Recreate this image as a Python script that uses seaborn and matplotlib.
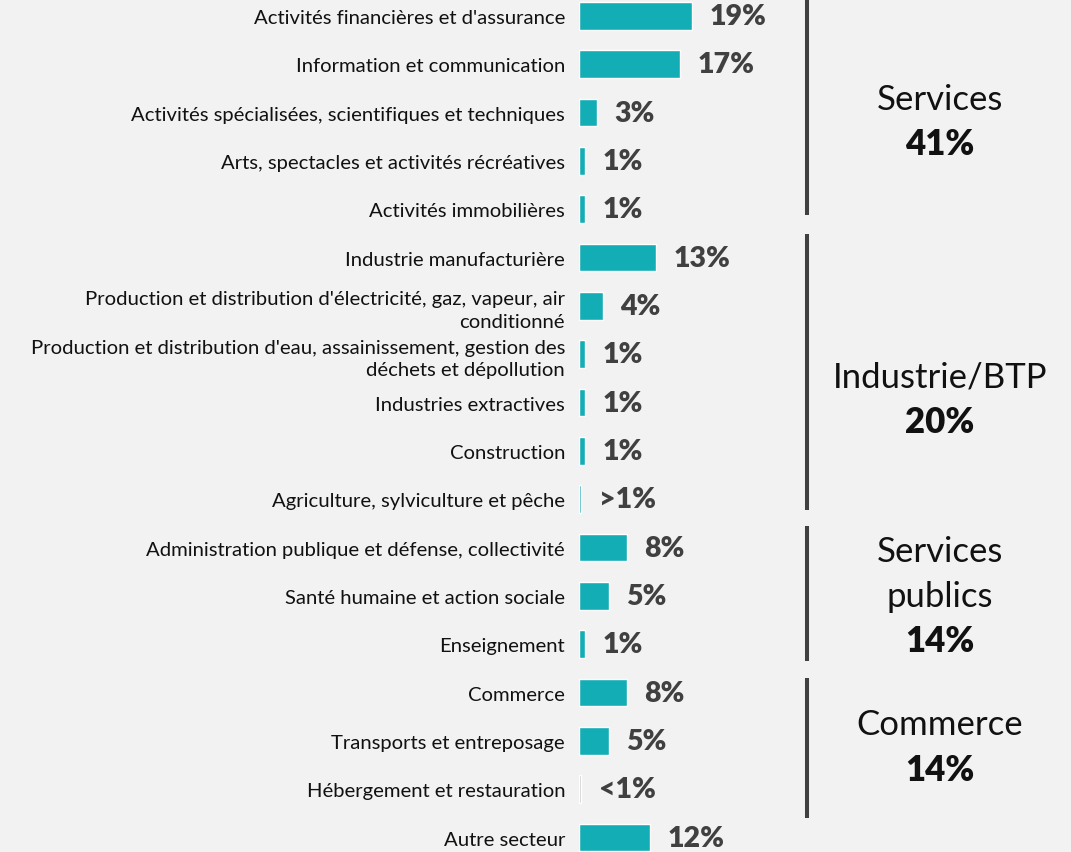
import matplotlib
matplotlib.use("Agg")
import matplotlib.pyplot as plt
import seaborn as sns
import pandas as pd

# Sector breakdown (share of total, %)
categories = [
    "Activités financières et d'assurance",
    "Information et communication",
    "Activités spécialisées, scientifiques et techniques",
    "Arts, spectacles et activités récréatives",
    "Activités immobilières",
    "Industrie manufacturière",
    "Production et distribution d'électricité, gaz, vapeur, air\nconditionné",
    "Production et distribution d'eau, assainissement, gestion des\ndéchets et dépollution",
    "Industries extractives",
    "Construction",
    "Agriculture, sylviculture et pêche",
    "Administration publique et défense, collectivité",
    "Santé humaine et action sociale",
    "Enseignement",
    "Commerce",
    "Transports et entreposage",
    "Hébergement et restauration",
    "Autre secteur",
]
values = [19, 17, 3, 1, 1, 13, 4, 1, 1, 1, 0.4, 8, 5, 1, 8, 5, 0.4, 12]
value_labels = ["19%", "17%", "3%", "1%", "1%", "13%", "4%", "1%", "1%", "1%",
                ">1%", "8%", "5%", "1%", "8%", "5%", "<1%", "12%"]

# Sector families: name, total share, number of rows they cover
group_names = ["Services", "Industrie/BTP", "Services\npublics", "Commerce"]
group_shares = ["41%", "20%", "14%", "14%"]
group_sizes = [5, 6, 3, 3]

# Layout tweaks for the family brackets (extra extent above / below, in rows)
bracket_pads = [(0.45, 0.11), (0.48, 0.23), (0.44, 0.35), (0.30, 0.60)]
# Vertical shift of each family caption relative to the rows it covers
caption_shift = [0.18, 0.42, 0.0, 0.12]

TEAL = "#13aeb5"
GREY_BAR = "#c4c4c4"
BG = "#f2f2f2"
DARK = "#404040"

sns.set_theme(style="white")
plt.rcParams["font.family"] = ["Lato", "DejaVu Sans"]

df = pd.DataFrame({"secteur": categories, "part": values})
bar_colors = [GREY_BAR if lab == "<1%" else TEAL for lab in value_labels]
palette = dict(zip(categories, bar_colors))

fig = plt.figure(figsize=(10.71, 8.53), dpi=100, facecolor=BG)
ax = fig.add_axes([579 / 1071, 0, 492 / 1071, 1], facecolor=BG)

sns.barplot(data=df, x="part", y="secteur", hue="secteur", palette=palette,
            legend=False, width=0.57, orient="h", saturation=1, ax=ax)

ax.set_xlim(0, 82.7)
ax.set_ylim(17.3, -0.35)
ax.set_xlabel("")
ax.set_ylabel("")
ax.set_xticks([])
for s in ax.spines.values():
    s.set_visible(False)
ax.tick_params(axis="y", length=0, pad=10, labelsize=14.6, labelcolor="#111111")
for t in ax.get_yticklabels():
    t.set_linespacing(1.4)

# Value labels at the end of each bar
for i, (v, lab) in enumerate(zip(values, value_labels)):
    ax.text(v + 2.9, i, lab, va="center", ha="left", fontsize=20.5,
            fontweight="heavy", color=DARK)

# Brackets and family totals on the right
bracket_x = 38.3
label_x = 60.7
line_step = 0.93
start = 0
for name, share, n, (pad_top, pad_bot), shift in zip(
        group_names, group_shares, group_sizes, bracket_pads, caption_shift):
    first, last = start, start + n - 1
    ax.plot([bracket_x, bracket_x], [first - pad_top, last + pad_bot], color=DARK,
            lw=2.9, solid_capstyle="butt")
    lines = name.split("\n") + [share]
    center = (first + last) / 2 + shift
    for k, line in enumerate(lines):
        y = center + (k - (len(lines) - 1) / 2) * line_step
        ax.text(label_x, y, line, ha="center", va="center", fontsize=25,
                fontweight="heavy" if line == share else "normal", color="#111111")
    start += n

fig.savefig("out.png", dpi=100, facecolor=BG)
